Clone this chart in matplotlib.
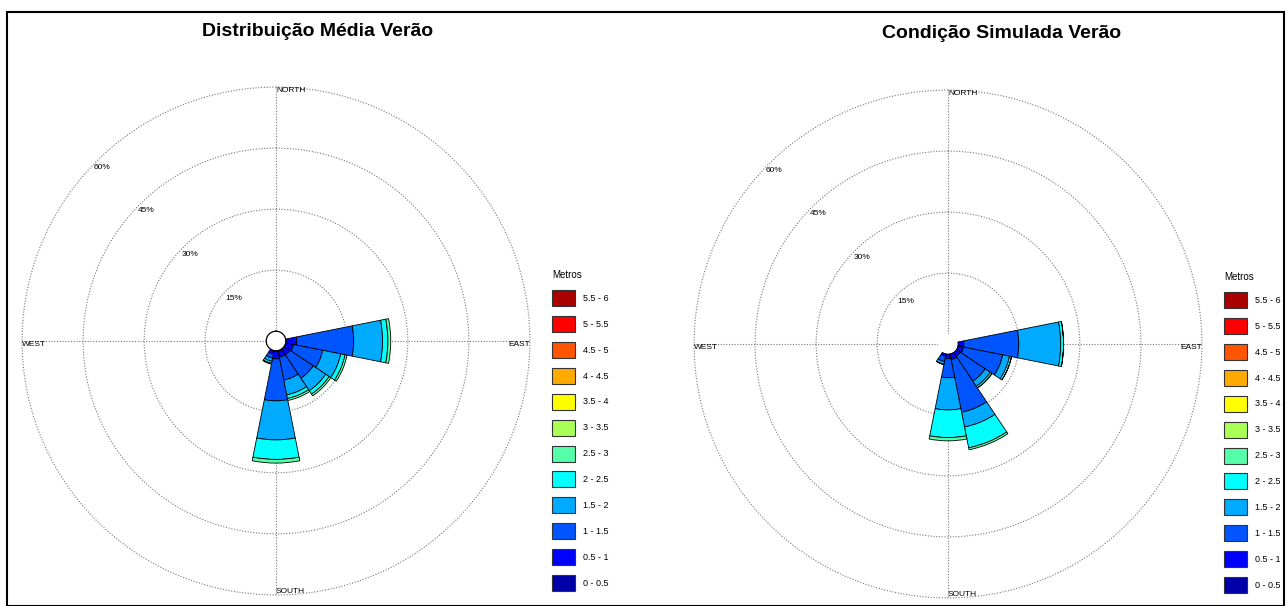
import numpy as np
import matplotlib.pyplot as plt
from matplotlib.patches import Patch, Rectangle

plt.rcParams['font.family'] = ['Liberation Sans', 'DejaVu Sans']

# sector centres, degrees clockwise from north (E, ESE, SE, SSE, S, SSW)
direcoes = [90, 112.5, 135, 157.5, 180, 202.5]

classes = ['0 - 0.5', '0.5 - 1', '1 - 1.5', '1.5 - 2', '2 - 2.5', '2.5 - 3',
           '3 - 3.5', '3.5 - 4', '4 - 4.5', '4.5 - 5', '5 - 5.5', '5.5 - 6']

# frequency (%) per wave height class, columns 0-0.5 ... 2.5-3 m
media_verao = [
    [0.1, 2.6, 14.0, 7.1, 1.3, 0.7],
    [0.1, 1.9, 7.3, 4.5, 1.1, 0.5],
    [0.1, 1.6, 6.9, 3.7, 1.0, 0.5],
    [0.1, 1.6, 5.7, 3.7, 0.9, 0.5],
    [0.1, 1.9, 10.3, 9.6, 4.8, 0.9],
    [0.1, 0.8, 1.0, 0.8, 0.5, 0.2],
]
simulada_verao = [
    [0.1, 1.4, 13.5, 10.3, 0.7, 0.0],
    [0.1, 1.4, 9.8, 1.7, 0.5, 0.0],
    [0.1, 1.1, 7.4, 1.5, 0.5, 0.0],
    [0.1, 1.4, 13.2, 3.7, 5.2, 0.5],
    [0.1, 1.1, 4.7, 7.9, 6.8, 0.8],
    [0.1, 0.6, 1.3, 0.7, 0.0, 0.0],
]

# matlab jet(12)
cores = [(0, 0, 0.6667), (0, 0, 1), (0, 0.3333, 1), (0, 0.6667, 1),
         (0, 1, 1), (0.3333, 1, 0.6667), (0.6667, 1, 0.3333), (1, 1, 0),
         (1, 0.6667, 0), (1, 0.3333, 0), (1, 0, 0), (0.6667, 0, 0)]

W, H = 1286, 606


def rosa(fig, rect, dados, titulo, titulo_xy, leg_xy, circulo_central):
    ax = fig.add_axes(rect, projection='polar')
    ax.set_theta_zero_location('N')
    ax.set_theta_direction(-1)
    ax.set_rorigin(-2.4)
    ax.set_ylim(0, 61)
    ax.grid(False)
    ax.set_xticks([])
    ax.set_yticks([])
    ax.spines['polar'].set_visible(False)
    # calm circle outline only on the first rose
    if circulo_central:
        ax.spines['inner'].set_linewidth(0.9)
        ax.spines['inner'].set_zorder(3)
    else:
        ax.spines['inner'].set_edgecolor('none')
    ax.patch.set_alpha(0)

    grade = dict(color='#777777', lw=0.8, ls=(0, (1, 1.5)), zorder=0)
    t = np.linspace(0, 2 * np.pi, 400)
    for r in [15, 30, 45, 60]:
        ax.plot(t, np.full_like(t, r), **grade)
    for a in [0, 90, 180, 270]:
        ax.plot([np.deg2rad(a)] * 2, [0, 60], **grade)

    theta = np.deg2rad(direcoes)
    base = np.zeros(len(direcoes))
    valores = np.array(dados)
    for k in range(valores.shape[1]):
        h = valores[:, k]
        ax.bar(theta, h, width=np.deg2rad(22.5), bottom=base, color=cores[k],
               edgecolor='black', linewidth=0.6, align='center', zorder=2)
        base = base + h

    fs = 6
    ax.text(0, 60, 'NORTH', ha='left', va='top', fontsize=fs)
    ax.text(np.pi / 2, 60, 'EAST', ha='right', va='top', fontsize=fs)
    ax.text(np.pi, 60, 'SOUTH', ha='left', va='bottom', fontsize=fs)
    ax.text(3 * np.pi / 2, 60, 'WEST', ha='left', va='top', fontsize=fs)
    for r, lab in zip([12.3, 27.5, 42.8, 58], ['15%', '30%', '45%', '60%']):
        ax.text(np.deg2rad(315), r, lab, ha='center', va='center', fontsize=fs)

    fig.text(titulo_xy[0] / W, 1 - titulo_xy[1] / H, titulo, ha='center',
             va='center', fontsize=14, fontweight='bold')

    handles = [Patch(facecolor=c, edgecolor='#333333', linewidth=0.8) for c in cores]
    fig.legend(handles[::-1], classes[::-1], title='Metros',
               loc='upper left',
               bbox_to_anchor=(leg_xy[0] / W, 1 - leg_xy[1] / H),
               frameon=False, fontsize=6.5, title_fontsize=7,
               handlelength=2.5, handleheight=2.35, labelspacing=1.1,
               handletextpad=0.9, borderpad=0, borderaxespad=0,
               alignment='left')
    return ax


fig = plt.figure(figsize=(W / 100, H / 100), dpi=100)

rosa(fig, [18 / W, 7 / H, 516 / W, 516 / H], media_verao,
     'Distribuição Média Verão', (318, 31), (552, 270), True)
rosa(fig, [690 / W, 4 / H, 516 / W, 516 / H], simulada_verao,
     'Condição Simulada Verão', (1002, 34), (1224, 272), False)

fig.patches.append(Rectangle((7 / W, 0), 1277 / W, 1 - 12 / H,
                             transform=fig.transFigure, fill=False,
                             edgecolor='black', linewidth=1.5, zorder=0))

fig.savefig('out.png', dpi=100)
